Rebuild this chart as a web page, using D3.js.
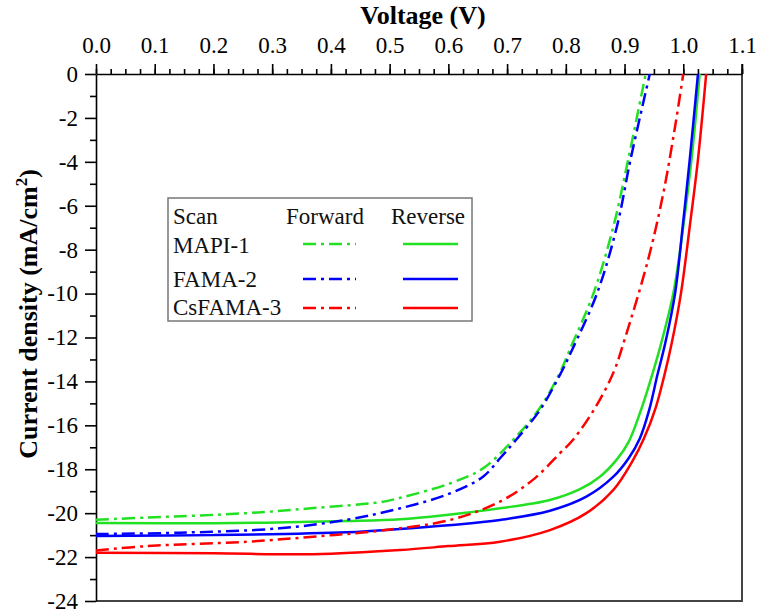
<!DOCTYPE html>
<html>
<head>
<meta charset="utf-8">
<script src="https://cdn.jsdelivr.net/npm/d3@7"></script>
<style>
    body { margin: 0; background: #fff; }
    svg { display: block; font-family: "Liberation Serif", "Times New Roman", serif; }
    .axis line, .axis path { stroke: #000; stroke-width: 1.6; }
    .curve { fill: none; stroke-width: 2.5; }
    .legend text { font-size: 23px; fill: #111; }
</style>
</head>
<body>
<svg id="chart" width="758" height="612"></svg>
<script>
// J-V curves: [voltage (V), current density (mA/cm2)]
const mapiForward = [
    [0, -20.3], [0.087, -20.2], [0.257, -20.0], [0.37, -19.77], [0.483, -19.5],
    [0.518, -19.3], [0.603, -18.64], [0.659, -17.96], [0.71, -16.67],
    [0.756, -15.2], [0.79, -13.6], [0.806, -12.6], [0.847, -10.0], [0.881, -6.95],
    [0.906, -3.92], [0.936, 0]
];
const famaForward = [
    [0, -20.95], [0.143, -20.89], [0.313, -20.69], [0.427, -20.3], [0.518, -19.78],
    [0.603, -19.1], [0.659, -18.34], [0.688, -17.5], [0.714, -16.7], [0.756, -15.3],
    [0.79, -13.7], [0.81, -12.6], [0.853, -10.0], [0.887, -6.95], [0.910, -3.92],
    [0.943, 0]
];
const csfamaForward = [
    [0, -21.7], [0.087, -21.5], [0.257, -21.3], [0.37, -21.07], [0.483, -20.8],
    [0.603, -20.31], [0.688, -19.47], [0.745, -18.46], [0.79, -17.27], [0.812, -16.67],
    [0.850, -15.2], [0.881, -13.6], [0.900, -12.1], [0.940, -8.47], [0.966, -5.43],
    [0.986, -2.4], [1.0, 0]
];
const mapiReverse = [
    [0, -20.45], [0.2, -20.46], [0.427, -20.36], [0.518, -20.28], [0.6, -20.07],
    [0.688, -19.78], [0.773, -19.4], [0.824, -18.91], [0.858, -18.34], [0.887, -17.55],
    [0.907, -16.75], [0.928, -15.3], [0.947, -13.7], [0.962, -12.3], [0.983, -10.0],
    [1.0, -6.95], [1.014, -3.9], [1.028, 0]
];
const famaReverse = [
    [0, -21.04], [0.2, -21.0], [0.427, -20.87], [0.518, -20.72], [0.6, -20.55],
    [0.688, -20.31], [0.773, -19.89], [0.835, -19.25], [0.881, -18.34], [0.907, -17.5],
    [0.926, -16.6], [0.942, -15.3], [0.956, -13.7], [0.969, -12.3], [0.986, -10.0],
    [0.999, -6.95], [1.011, -3.9], [1.025, 0]
];
const csfamaReverse = [
    [0, -21.8], [0.2, -21.83], [0.37, -21.87], [0.518, -21.68], [0.6, -21.5],
    [0.688, -21.3], [0.773, -20.77], [0.835, -20.0], [0.881, -18.94], [0.913, -17.65],
    [0.933, -16.6], [0.953, -15.2], [0.968, -13.7], [0.980, -12.3], [0.996, -10.0],
    [1.011, -6.95], [1.025, -3.9], [1.039, 0]
];

const sampleNames = ["MAPI-1", "FAMA-2", "CsFAMA-3"];
const sampleColors = ["#22e022", "#0000ff", "#ff0000"];
const forwardData = [mapiForward, famaForward, csfamaForward];
const reverseData = [mapiReverse, famaReverse, csfamaReverse];

const xMajorTicks = d3.range(0, 1.1001, 0.1);
const xMinorTicks = d3.range(0, 1.1001, 0.025);
const yMajorTicks = d3.range(0, -24.001, -2);
const yMinorTicks = d3.range(-1, -24, -2);

const svg = d3.select("#chart");
const plotLeft = 96, plotRight = 742, plotTop = 74, plotBottom = 601;
const dashDot = "13,5,3,5";
const serif = "'Liberation Serif', 'Times New Roman', serif";

const x = d3.scaleLinear().domain([0, 1.1]).range([plotLeft, plotRight]);
const y = d3.scaleLinear().domain([0, -24]).range([plotTop, plotBottom]);

// d3 axes put a sans-serif font on their group; force serif on the labels
function serifTicks(g) {
    g.attr("font-family", null).attr("font-size", null);
    g.selectAll("text")
        .style("font-family", serif)
        .style("font-size", "23px")
        .attr("fill", "#000");
}

svg.append("defs").append("clipPath").attr("id", "plotClip")
    .append("rect")
    .attr("x", plotLeft).attr("y", plotTop)
    .attr("width", plotRight - plotLeft).attr("height", plotBottom - plotTop);

// frame: right and bottom sides are greyish in the original
svg.append("line")
    .attr("x1", plotRight).attr("x2", plotRight)
    .attr("y1", plotTop - 10).attr("y2", plotBottom + 1)
    .attr("stroke", "#444").attr("stroke-width", 2);
svg.append("line")
    .attr("x1", plotLeft).attr("x2", plotRight + 1)
    .attr("y1", plotBottom).attr("y2", plotBottom)
    .attr("stroke", "#444").attr("stroke-width", 2);

// top axis: minor then major ticks
svg.append("g")
    .attr("class", "axis")
    .attr("transform", `translate(0,${plotTop})`)
    .call(d3.axisTop(x).tickValues(xMinorTicks).tickSize(5).tickSizeOuter(0).tickFormat(""));
svg.append("g")
    .attr("class", "axis")
    .attr("transform", `translate(0,${plotTop})`)
    .call(d3.axisTop(x).tickValues(xMajorTicks).tickSize(10).tickSizeOuter(0)
        .tickPadding(11).tickFormat(d3.format(".1f")))
    .call(g => g.select(".domain").remove())
    .call(serifTicks);

// left axis
svg.append("g")
    .attr("class", "axis")
    .attr("transform", `translate(${plotLeft},0)`)
    .call(d3.axisLeft(y).tickValues(yMinorTicks).tickSize(6).tickSizeOuter(0).tickFormat(""));
svg.append("g")
    .attr("class", "axis")
    .attr("transform", `translate(${plotLeft},0)`)
    .call(d3.axisLeft(y).tickValues(yMajorTicks).tickSize(11).tickSizeOuter(0)
        .tickPadding(7).tickFormat(d => String(Math.round(d))))
    .call(g => g.select(".domain").remove())
    .call(serifTicks);

// axis titles
svg.append("text")
    .attr("x", (plotLeft + plotRight) / 2 + 4)
    .attr("y", 24)
    .attr("text-anchor", "middle")
    .style("font-family", serif)
    .attr("font-size", 26)
    .attr("font-weight", "bold")
    .text("Voltage (V)");

const yTitle = svg.append("text")
    .attr("transform", "translate(37,314) rotate(-90)")
    .attr("text-anchor", "middle")
    .style("font-family", serif)
    .attr("font-size", 26)
    .attr("font-weight", "bold");
yTitle.append("tspan").text("Current density (mA/cm");
yTitle.append("tspan").attr("dy", -10).attr("font-size", 17).text("2");
yTitle.append("tspan").attr("dy", 10).text(")");

// curves
const line = d3.line()
    .x(d => x(d[0]))
    .y(d => y(d[1]))
    .curve(d3.curveCatmullRom.alpha(0.5));

const plot = svg.append("g").attr("clip-path", "url(#plotClip)");

reverseData.forEach((data, i) => {
    plot.append("path")
        .datum(data)
        .attr("class", "curve")
        .attr("stroke", sampleColors[i])
        .attr("d", line);
});
forwardData.forEach((data, i) => {
    plot.append("path")
        .datum(data)
        .attr("class", "curve")
        .attr("stroke", sampleColors[i])
        .attr("stroke-dasharray", dashDot)
        .attr("d", line);
});

// legend
const legend = svg.append("g").attr("class", "legend").style("font-family", serif);
legend.append("rect")
    .attr("x", 168).attr("y", 198)
    .attr("width", 304).attr("height", 123)
    .attr("fill", "#fff")
    .attr("stroke", "#777").attr("stroke-width", 1.5);

legend.append("text").attr("x", 173).attr("y", 224).text("Scan");
legend.append("text").attr("x", 286).attr("y", 224).text("Forward");
legend.append("text").attr("x", 391).attr("y", 224).text("Reverse");

const rowBaselines = [253, 287, 315];
const rowLines = [244, 279, 308];
sampleNames.forEach((name, i) => {
    legend.append("text").attr("x", 173).attr("y", rowBaselines[i]).text(name);
    legend.append("line")
        .attr("x1", 303).attr("x2", 356)
        .attr("y1", rowLines[i]).attr("y2", rowLines[i])
        .attr("stroke", sampleColors[i]).attr("stroke-width", 2.5)
        .attr("stroke-dasharray", dashDot);
    legend.append("line")
        .attr("x1", 403).attr("x2", 458)
        .attr("y1", rowLines[i]).attr("y2", rowLines[i])
        .attr("stroke", sampleColors[i]).attr("stroke-width", 2.5);
});
</script>
</body>
</html>
